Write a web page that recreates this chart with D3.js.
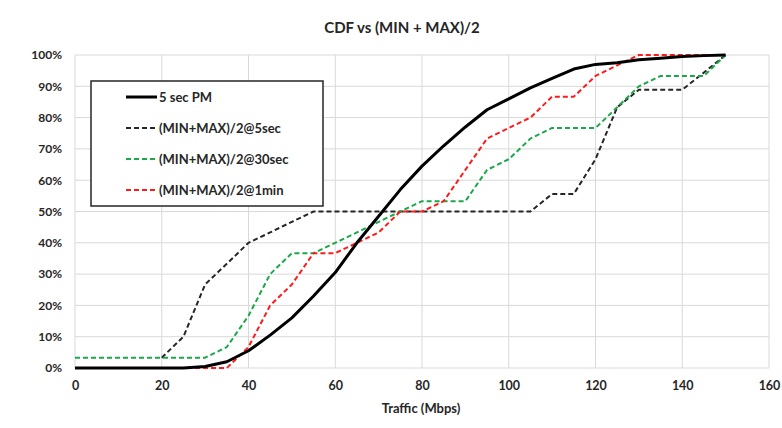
<!DOCTYPE html>
<html>
<head>
<meta charset="utf-8">
<script src="https://cdn.jsdelivr.net/npm/d3@7"></script>
<style>
  html, body { margin: 0; padding: 0; background: #fff; }
  svg text { font-family: Lato, "Open Sans", sans-serif; font-weight: bold; fill: #262626; }
</style>
</head>
<body>
<svg id="chart" width="782" height="428"></svg>
<script>
// ---- data ----
const title = "CDF vs (MIN + MAX)/2";
const xTitle = "Traffic (Mbps)";
const xTicks = [0, 20, 40, 60, 80, 100, 120, 140, 160];
const yTicks = [0, 10, 20, 30, 40, 50, 60, 70, 80, 90, 100];
const seriesNames = ["5 sec PM", "(MIN+MAX)/2@5sec", "(MIN+MAX)/2@30sec", "(MIN+MAX)/2@1min"];

const pm5sec = [[0,0],[5,0],[10,0],[15,0],[20,0],[25,0],[30,0.5],[35,2],[40,5.5],[45,10.5],[50,16],[55,23],[60,30.5],[65,40],[70,48.5],[75,57],[80,64.5],[85,71],[90,77],[95,82.5],[100,86],[105,89.5],[110,92.5],[115,95.5],[120,97],[125,97.5],[130,98.5],[135,99],[140,99.5],[145,99.8],[150,100]];
const mm5sec = [[20,3.3],[25,10],[30,26.7],[35,33.3],[40,40],[45,43.3],[50,46.7],[55,50],[60,50],[65,50],[70,50],[75,50],[80,50],[85,50],[90,50],[95,50],[100,50],[105,50],[110,55.6],[115,55.6],[120,66.7],[125,83.3],[130,88.9],[135,88.9],[140,88.9],[145,94.4],[150,100]];
const mm30sec = [[0,3.3],[5,3.3],[10,3.3],[15,3.3],[20,3.3],[25,3.3],[30,3.3],[35,6.7],[40,16.7],[45,30],[50,36.7],[55,36.7],[60,40],[65,43.3],[70,46.7],[75,50],[80,53.3],[85,53.3],[90,53.3],[95,63.3],[100,66.7],[105,73.3],[110,76.7],[115,76.7],[120,76.7],[125,83.3],[130,90],[135,93.3],[140,93.3],[145,93.3],[150,100]];
const mm1min = [[0,0],[5,0],[10,0],[15,0],[20,0],[25,0],[30,0],[35,0],[40,6.7],[45,20],[50,26.7],[55,36.7],[60,36.7],[65,40],[70,43.3],[75,50],[80,50],[85,53.3],[90,63.3],[95,73.3],[100,76.7],[105,80],[110,86.7],[115,86.7],[120,93.3],[125,96.7],[130,100],[135,100],[140,100],[145,100],[150,100]];

// ---- layout ----
const svg = d3.select("#chart");
const plot = {left: 75, right: 769, top: 55, bottom: 368};
const x = d3.scaleLinear().domain([0, 160]).range([plot.left, plot.right]);
const y = d3.scaleLinear().domain([0, 100]).range([plot.bottom, plot.top]);

svg.append("rect").attr("width", 782).attr("height", 428).attr("fill", "#fff");

// grid
const grid = svg.append("g");
grid.selectAll("line.v").data(xTicks).join("line")
  .attr("x1", d => x(d)).attr("x2", d => x(d))
  .attr("y1", plot.top).attr("y2", plot.bottom)
  .attr("stroke", "#d9d9d9").attr("stroke-width", 1);
grid.selectAll("line.h").data(yTicks).join("line")
  .attr("y1", d => y(d)).attr("y2", d => y(d))
  .attr("x1", plot.left).attr("x2", plot.right)
  .attr("stroke", "#d9d9d9").attr("stroke-width", 1);

// axes (labels only)
const xAxis = d3.axisBottom(x).tickValues(xTicks).tickSize(0).tickPadding(13);
const gx = svg.append("g").attr("transform", `translate(0,${plot.bottom})`).call(xAxis);
gx.select(".domain").remove();
gx.selectAll("text").style("font-size", "12.5px").attr("font-family", null);

const yAxis = d3.axisLeft(y).tickValues(yTicks).tickSize(0).tickPadding(13).tickFormat(d => d + "%");
const gy = svg.append("g").attr("transform", `translate(${plot.left},0)`).call(yAxis);
gy.select(".domain").remove();
gy.selectAll("text").style("font-size", "12px").attr("font-family", null);

// titles
svg.append("text").attr("x", 402).attr("y", 33).attr("text-anchor", "middle")
  .style("font-size", "15px").text(title);
svg.append("text").attr("x", 421).attr("y", 413).attr("text-anchor", "middle")
  .style("font-size", "13px").text(xTitle);

// series
const line = d3.line().x(d => x(d[0])).y(d => y(d[1]));
const series = [
  {data: mm5sec, color: "#262626", width: 2, dash: "5,3"},
  {data: mm30sec, color: "#1ca84a", width: 2, dash: "5,3"},
  {data: mm1min, color: "#ff1a1a", width: 2, dash: "5,3"},
  {data: pm5sec, color: "#000000", width: 3, dash: null}
];
svg.append("g").selectAll("path").data(series).join("path")
  .attr("d", d => line(d.data))
  .attr("fill", "none")
  .attr("stroke", d => d.color)
  .attr("stroke-width", d => d.width)
  .attr("stroke-dasharray", d => d.dash)
  .attr("stroke-linejoin", "round");

// legend
const legendItems = [
  {name: seriesNames[0], color: "#000000", width: 3, dash: null},
  {name: seriesNames[1], color: "#262626", width: 2, dash: "5,3"},
  {name: seriesNames[2], color: "#1ca84a", width: 2, dash: "5,3"},
  {name: seriesNames[3], color: "#ff1a1a", width: 2, dash: "5,3"}
];
const lg = svg.append("g");
lg.append("rect").attr("x", 91).attr("y", 81).attr("width", 232).attr("height", 125)
  .attr("fill", "#fff").attr("stroke", "#262626").attr("stroke-width", 1.5);
const rows = lg.selectAll("g.row").data(legendItems).join("g")
  .attr("transform", (d, i) => `translate(0,${97 + i * 31})`);
rows.append("line").attr("x1", 126).attr("x2", 157).attr("y1", 0).attr("y2", 0)
  .attr("stroke", d => d.color).attr("stroke-width", d => d.width)
  .attr("stroke-dasharray", d => d.dash);
rows.append("text").attr("x", 159).attr("y", 0).attr("dy", "0.35em")
  .style("font-size", "13px").text(d => d.name);
</script>
</body>
</html>
